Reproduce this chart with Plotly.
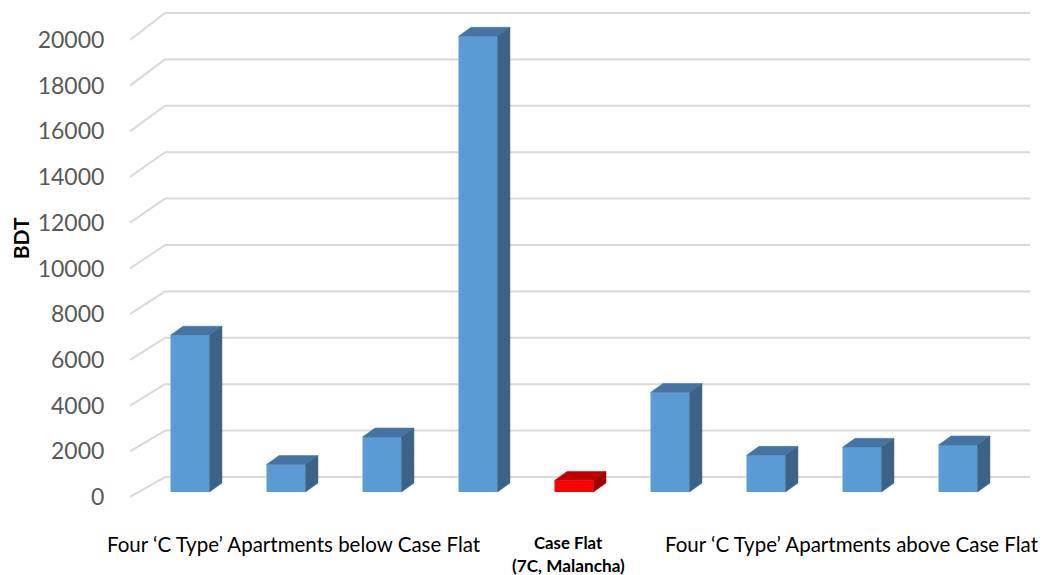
import plotly.graph_objects as go

# ---------------- data ----------------
positions = [0, 1, 2, 3, 4, 5, 6, 7, 8]
values = [6850, 1200, 2400, 19900, 500, 4350, 1600, 1950, 2050]
is_case = [False, False, False, False, True, False, False, False, False]
tick_values = [0, 2000, 4000, 6000, 8000, 10000, 12000, 14000, 16000, 18000, 20000]
group_labels = ["Four \u2018C Type\u2019 Apartments below Case Flat",
                "Case Flat",
                "Four \u2018C Type\u2019 Apartments above Case Flat"]
case_sub = "(7C, Malancha)"
group_pos = [1, 4, 7]
y_title = "BDT"

# ---------------- style / geometry ----------------
BLUE_FRONT, BLUE_TOP, BLUE_SIDE = "#5B9BD5", "#4574A3", "#3A6387"
RED_FRONT, RED_TOP, RED_SIDE = "#FF0000", "#C00000", "#A00000"
GRID = "#D9D9D9"
BAR_W = 0.406
DDX, DDY = 0.13, 393          # bar depth offset (data units)
X_FRONT, X_BACK, X_END = -0.625, -0.26, 8.75


def front(v):
    return v * 0.998 - 218


def back(v):
    return v * 1.0131 + 655


fig = go.Figure()

# walls / gridlines
shapes = []
for v in tick_values:
    shapes.append(dict(type="line", xref="x", yref="y", x0=X_FRONT, y0=front(v),
                       x1=X_BACK, y1=back(v), line=dict(color=GRID, width=2), layer="below"))
    shapes.append(dict(type="line", xref="x", yref="y", x0=X_BACK, y0=back(v),
                       x1=X_END, y1=back(v), line=dict(color=GRID, width=2), layer="below"))

# front faces
fig.add_trace(go.Bar(
    x=positions, y=values, width=BAR_W,
    marker=dict(color=[RED_FRONT if c else BLUE_FRONT for c in is_case],
                line=dict(width=0)),
    hoverinfo="skip", showlegend=False))


def faces(case_flag):
    tx, ty, sx, sy = [], [], [], []
    for p, v, c in zip(positions, values, is_case):
        if c != case_flag:
            continue
        l, r = p - BAR_W / 2, p + BAR_W / 2
        tx += [l, r, r + DDX, l + DDX, l, None]
        ty += [v, v, v + DDY, v + DDY, v, None]
        sx += [r, r + DDX, r + DDX, r, r, None]
        sy += [0, DDY, v + DDY, v, 0, None]
    return tx, ty, sx, sy


for flag, ctop, cside in [(False, BLUE_TOP, BLUE_SIDE), (True, RED_TOP, RED_SIDE)]:
    tx, ty, sx, sy = faces(flag)
    fig.add_trace(go.Scatter(x=tx, y=ty, mode="lines", fill="toself", fillcolor=ctop,
                             line=dict(width=0.5, color=ctop), hoverinfo="skip", showlegend=False))
    fig.add_trace(go.Scatter(x=sx, y=sy, mode="lines", fill="toself", fillcolor=cside,
                             line=dict(width=0.5, color=cside), hoverinfo="skip", showlegend=False))

FONT = "Lato, Open Sans, sans-serif"
annotations = [
    dict(text=group_labels[0], x=group_pos[0], xshift=8, y=-0.089, xref="x", yref="paper",
         xanchor="center", yanchor="middle",
         showarrow=False, font=dict(family=FONT, size=20.5, color="#000000")),
    dict(text="<b>" + group_labels[1] + "</b>", x=group_pos[1], xshift=-6, y=-0.085,
         xref="x", yref="paper", showarrow=False, xanchor="center", yanchor="middle",
         font=dict(family=FONT, size=16.8, color="#000000")),
    dict(text="<b>" + case_sub + "</b>", x=group_pos[1], xshift=-6, y=-0.133,
         xref="x", yref="paper", showarrow=False, xanchor="center", yanchor="middle",
         font=dict(family=FONT, size=17.2, color="#000000")),
    dict(text=group_labels[2], x=group_pos[2], xshift=-10, y=-0.089, xref="x", yref="paper",
         xanchor="center", yanchor="middle",
         showarrow=False, font=dict(family=FONT, size=20.5, color="#000000")),
    dict(text="<b>" + y_title + "</b>", x=-0.122, y=0.529, xref="paper", yref="paper",
         xanchor="center", yanchor="middle",
         textangle=-90, showarrow=False, font=dict(family=FONT, size=21, color="#000000")),
]

fig.update_layout(
    width=1043, height=575,
    margin=dict(l=130, r=13, t=5, b=75),
    plot_bgcolor="white", paper_bgcolor="white",
    shapes=shapes, annotations=annotations,
    barmode="overlay",
    xaxis=dict(range=[X_FRONT, X_END], showgrid=False, zeroline=False, showline=False,
               showticklabels=False, ticks=""),
    yaxis=dict(range=[-349, 21266], showgrid=False, zeroline=False, showline=False,
               tickvals=[front(v) for v in tick_values],
               ticktext=[str(v) for v in tick_values],
               ticks="outside", ticklen=20, tickcolor="rgba(0,0,0,0)",
               tickfont=dict(family=FONT, size=23, color="#595959")),
)

fig.write_html("out.html")
